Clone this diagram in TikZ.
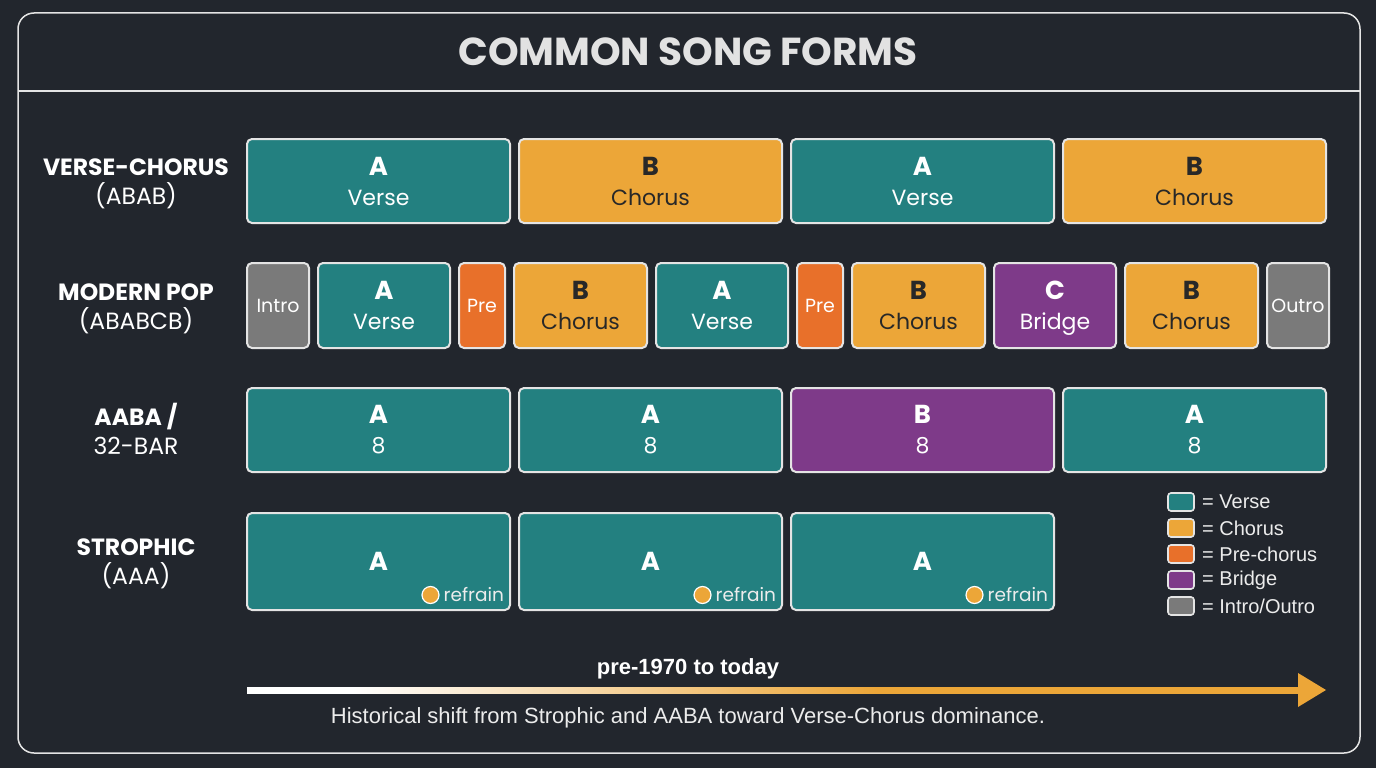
\documentclass[tikz,border=0pt]{standalone}
\usepackage{fontspec}
\setmainfont{Poppins}
\newfontfamily\legfont{Liberation Sans}
\usetikzlibrary{shapes.geometric}
\definecolor{bgc}{RGB}{34,38,45}
\definecolor{linec}{RGB}{228,228,228}
\definecolor{cteal}{RGB}{35,128,128}
\definecolor{cchorus}{RGB}{236,166,56}
\definecolor{cpre}{RGB}{232,112,42}
\definecolor{cbridge}{RGB}{126,58,137}
\definecolor{cgray}{RGB}{122,122,122}
\definecolor{cdark}{RGB}{40,40,40}
\definecolor{ctext}{RGB}{236,236,236}
\definecolor{ctitle}{RGB}{226,226,226}
\pgfdeclarehorizontalshading{arrsh}{100bp}{color(0bp)=(white); color(30bp)=(white); color(55bp)=(cchorus); color(100bp)=(cchorus)}
\tikzset{
  box/.style={draw=linec, line width=2pt, rounded corners=5pt, inner sep=0pt, align=center,
    font=\fontsize{22}{30}\selectfont},
  vs/.style={fill=cteal, text=white},
  ch/.style={fill=cchorus, text=cdark},
  pr/.style={fill=cpre, text=white, font=\fontsize{19}{24}\selectfont},
  br/.style={fill=cbridge, text=white},
  io/.style={fill=cgray, text=white, font=\fontsize{19}{24}\selectfont},
  rowlab/.style={text=white, align=center, font=\fontsize{23.5}{29}\selectfont},
  legsq/.style={draw=linec, line width=1.6pt, rounded corners=3pt, minimum width=26pt, minimum height=18pt, inner sep=0pt},
  legtx/.style={text=ctext, anchor=west, inner sep=0pt, font=\legfont\fontsize{20}{24}\selectfont},
  refdot/.style={circle, fill=cchorus, draw=white, line width=1.2pt, minimum size=17pt, inner sep=0pt},
  reftx/.style={text=ctext, anchor=west, inner sep=0pt, font=\fontsize{18.5}{24}\selectfont},
}
\newcommand\LT[1]{{\fontsize{26}{30}\selectfont\bfseries #1}}
% name, x1, x2, y1, y2, style, contents
\newcommand\segbox[7]{%
  \node[box,#6,minimum width={#3-#2},minimum height={#5-#4}] (#1) at ({(#2+#3)/2},{(#4+#5)/2}) {#7};
}
\begin{document}
\begin{tikzpicture}[x=1pt,y=-1pt]
\fill[bgc] (0,0) rectangle (1376,768);
\useasboundingbox (0,0) rectangle (1376,768);
% frame
\draw[linec, line width=1.5pt, rounded corners=16pt] (18,13) rectangle (1360,753);
\coordinate (sepL) at (18,91);
\coordinate (sepR) at (1360,91);
\draw[linec, line width=1.5pt] (sepL) -- (sepR);
\node[text=ctitle, font=\fontsize{39}{44}\selectfont\bfseries] (title) at (688,52) {COMMON SONG FORMS};
% row labels
\node[rowlab] (lab1) at (136,184) {\textbf{VERSE-CHORUS}\\(ABAB)};
\node[rowlab] (lab2) at (136,309) {\textbf{MODERN POP}\\(ABABCB)};
\node[rowlab] (lab3) at (136,429) {\textbf{AABA /}\\32-BAR};
\node[rowlab] (lab4) at (136,564) {\textbf{STROPHIC}\\(AAA)};
% row 1
\segbox{r1a}{247}{510}{139}{223}{vs}{\LT{A}\\Verse}
\segbox{r1b}{519}{782}{139}{223}{ch}{\LT{B}\\Chorus}
\segbox{r1c}{791}{1054}{139}{223}{vs}{\LT{A}\\Verse}
\segbox{r1d}{1063}{1326}{139}{223}{ch}{\LT{B}\\Chorus}
% row 2
\segbox{r2a}{247}{309}{263}{348}{io}{Intro}
\segbox{r2b}{318}{450}{263}{348}{vs}{\LT{A}\\Verse}
\segbox{r2c}{459}{505}{263}{348}{pr}{Pre}
\segbox{r2d}{514}{647}{263}{348}{ch}{\LT{B}\\Chorus}
\segbox{r2e}{656}{788}{263}{348}{vs}{\LT{A}\\Verse}
\segbox{r2f}{797}{843}{263}{348}{pr}{Pre}
\segbox{r2g}{852}{985}{263}{348}{ch}{\LT{B}\\Chorus}
\segbox{r2h}{994}{1116}{263}{348}{br}{\LT{C}\\\smash{Bridge}}
\segbox{r2i}{1125}{1258}{263}{348}{ch}{\LT{B}\\Chorus}
\segbox{r2j}{1267}{1329}{263}{348}{io}{Outro}
% row 3
\segbox{r3a}{247}{510}{388}{472}{vs}{\LT{A}\\8}
\segbox{r3b}{519}{782}{388}{472}{vs}{\LT{A}\\8}
\segbox{r3c}{791}{1054}{388}{472}{br}{\LT{B}\\8}
\segbox{r3d}{1063}{1326}{388}{472}{vs}{\LT{A}\\8}
% row 4
\segbox{r4a}{247}{510}{513}{610}{vs}{\LT{A}}
\segbox{r4b}{519}{782}{513}{610}{vs}{\LT{A}}
\segbox{r4c}{791}{1054}{513}{610}{vs}{\LT{A}}
\foreach \b in {r4a,r4b,r4c}{
  \node[refdot] (\b dot) at ([xshift=-80.5pt,yshift=16pt]\b.south east) {};
  \node[reftx] (\b txt) at ([xshift=13pt]\b dot.center) {refrain};
}
% legend
\node[legsq, fill=cteal] (lg1) at (1181,502) {};
\node[legsq, fill=cchorus] (lg2) at (1181,528) {};
\node[legsq, fill=cpre] (lg3) at (1181,554) {};
\node[legsq, fill=cbridge] (lg4) at (1181,580) {};
\node[legsq, fill=cgray] (lg5) at (1181,606) {};
\node[legtx] (lt1) at (1202,502) {= Verse};
\node[legtx] (lt2) at (1202,528) {= Chorus};
\node[legtx] (lt3) at (1202,554) {= Pre-chorus};
\node[legtx] (lt4) at (1202,580) {= Bridge};
\node[legtx] (lt5) at (1202,606) {= Intro/Outro};
% timeline arrow
\coordinate (arrS) at (247,690);
\coordinate (arrB) at (1298,690);
\coordinate (arrE) at (1326,690);
\shade[shading=arrsh] ([yshift=3pt]arrS) rectangle ([yshift=-3pt]arrB);
\fill[cchorus] ([yshift=17pt]arrB) -- (arrE) -- ([yshift=-17pt]arrB) -- cycle;
\node[text=white, font=\legfont\bfseries\fontsize{22}{26}\selectfont] (tl) at (688,669) {pre-1970 to today};
\node[text=ctext, font=\legfont\fontsize{22}{26}\selectfont] (cap) at (688,718) {Historical shift from Strophic and AABA toward Verse-Chorus dominance.};
\end{tikzpicture}
\end{document}
